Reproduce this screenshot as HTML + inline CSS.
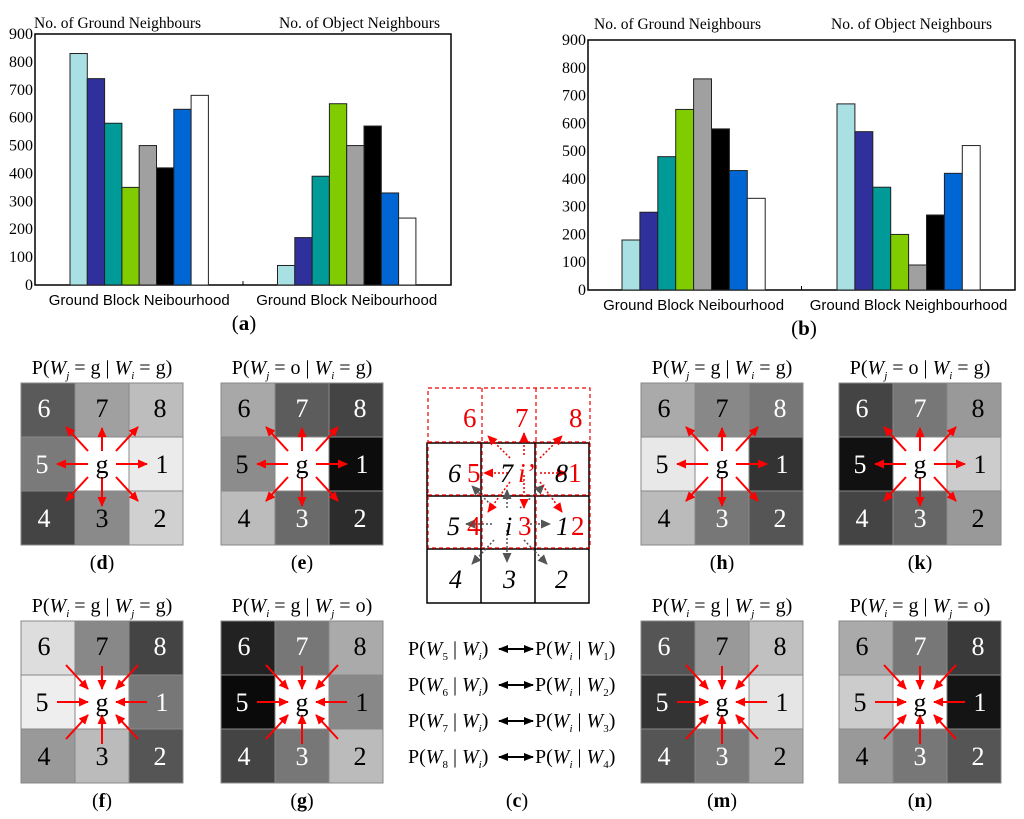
<!DOCTYPE html>
<html><head><meta charset="utf-8"><style>
body{margin:0;background:#fff;width:1024px;height:814px;overflow:hidden}
svg text{font-family:"Liberation Serif",serif}
</style></head><body>
<svg id="fig" width="1024" height="814" viewBox="0 0 1024 814" xmlns="http://www.w3.org/2000/svg">
<defs>
<marker id="ar" markerWidth="10" markerHeight="10" refX="9" refY="5" orient="auto" markerUnits="userSpaceOnUse"><path d="M0,0.5 L10,5 L0,9.5 z" fill="#f00"/></marker>
<marker id="ak" markerWidth="10" markerHeight="10" refX="9" refY="5" orient="auto" markerUnits="userSpaceOnUse"><path d="M0,0.5 L10,5 L0,9.5 z" fill="#555"/></marker>
<marker id="ab" markerWidth="10" markerHeight="8" refX="9" refY="4" orient="auto-start-reverse" markerUnits="userSpaceOnUse"><path d="M0,0 L10,4 L0,8 z" fill="#000"/></marker>
</defs>
<g id="c-diagram">
<rect x="427" y="443" width="162" height="160" fill="none" stroke="#000" stroke-width="1.5"/>
<line x1="481" y1="443" x2="481" y2="603" stroke="#000" stroke-width="1.5"/>
<line x1="535" y1="443" x2="535" y2="603" stroke="#000" stroke-width="1.5"/>
<line x1="427" y1="496" x2="589" y2="496" stroke="#000" stroke-width="1.5"/>
<line x1="427" y1="549" x2="589" y2="549" stroke="#000" stroke-width="1.5"/>
<g fill="none" stroke="#e00" stroke-width="1.2" stroke-dasharray="4,3">
<rect x="428" y="388" width="162" height="160"/>
<line x1="482" y1="388" x2="482" y2="548"/><line x1="536" y1="388" x2="536" y2="548"/>
<line x1="428" y1="442" x2="590" y2="442"/><line x1="428" y1="495" x2="590" y2="495"/>
</g>
<g stroke="#555" stroke-width="1.5" stroke-dasharray="2,2" marker-end="url(#ak)">
<line x1="507" y1="508" x2="507" y2="490"/><line x1="507" y1="530" x2="507" y2="562"/>
<line x1="492" y1="524" x2="466" y2="524"/><line x1="526" y1="524" x2="550" y2="524"/>
<line x1="494" y1="508" x2="472" y2="486"/><line x1="520" y1="508" x2="544" y2="485"/>
<line x1="494" y1="540" x2="472" y2="564"/><line x1="524" y1="540" x2="547" y2="564"/>
</g>
<g stroke="#e00" stroke-width="1.5" stroke-dasharray="2,2" marker-end="url(#ar)">
<line x1="524" y1="455" x2="524" y2="433"/><line x1="524" y1="475" x2="524" y2="508"/>
<line x1="508" y1="473" x2="484" y2="473"/><line x1="540" y1="473" x2="566" y2="473"/>
<line x1="510" y1="458" x2="488" y2="436"/><line x1="540" y1="458" x2="562" y2="436"/>
<line x1="510" y1="482" x2="488" y2="512"/><line x1="540" y1="482" x2="562" y2="512"/>
</g>
<g font-size="27" fill="#e00">
<text x="463" y="427">6</text><text x="515" y="427">7</text><text x="569" y="427">8</text>
<text x="467" y="482">5</text><text x="568" y="482">1</text>
<text x="467" y="535">4</text><text x="518" y="535">3</text><text x="571" y="535">2</text>
<text x="518" y="482" font-style="italic">i’</text>
</g>
<g font-size="26" font-style="italic" fill="#000">
<text x="448" y="482">6</text><text x="500" y="482">7</text><text x="555" y="482">8</text>
<text x="447" y="535">5</text><text x="556" y="535">1</text>
<text x="449" y="588">4</text><text x="503" y="588">3</text><text x="555" y="588">2</text>
<text x="505" y="535">i</text>
</g>
</g>
<g id="eqs" font-size="20"></g>
</svg>
<script>
// ---- chart data ----
const yTicks = [0,100,200,300,400,500,600,700,800,900];
const barColors = ["#a8e0e4","#30309c","#009a98","#80cc00","#a0a0a0","#000000","#0066d4","#ffffff"];
const aGround = [830,740,580,350,500,420,630,680];
const aObject = [70,170,390,650,500,570,330,240];
const bGround = [180,280,480,650,760,580,430,330];
const bObject = [670,570,370,200,90,270,420,520];
const aGroupLabels = ["Ground Block Neibourhood","Ground Block Neibourhood"];
const bGroupLabels = ["Ground Block Neibourhood","Ground Block Neighbourhood"];

const NS="http://www.w3.org/2000/svg";
const svg=document.getElementById('fig');
function mk(tag,attrs,parent){const e=document.createElementNS(NS,tag);for(const k in attrs)e.setAttribute(k,attrs[k]);(parent||svg).appendChild(e);return e;}

function chart(cfg){
  const g=mk('g',{});
  
  
  const y=v=>cfg.y0-(v/900)*(cfg.y0-cfg.y1);
  const fr=mk('rect',{x:cfg.x0,y:cfg.y1,width:cfg.x1-cfg.x0,height:cfg.y0-cfg.y1,fill:'none',stroke:'#000','stroke-width':1.5},g);
  
  
  yTicks.forEach(t=>{
    const tx=mk('text',{x:cfg.x0-2,y:y(t)+5,'text-anchor':'end','font-size':16},g);
    tx.textContent=t;
    
    
  });
  mk('line',{x1:(cfg.x0+cfg.x1)/2,y1:cfg.y0,x2:(cfg.x0+cfg.x1)/2,y2:cfg.y0-4,stroke:'#000'},g);
  [cfg.g1,cfg.g2].forEach((vals,gi)=>{
    const gx=gi?cfg.gx2:cfg.gx1, w=cfg.bw;
    vals.forEach((v,i)=>{
      const r=mk('rect',{x:gx+i*w,y:y(v),width:w,height:y(0)-y(v),fill:barColors[i],stroke:'#222','stroke-width':1},g);
      
      
    });
    const lb=mk('text',{x:gx+4*w,y:cfg.y0+20,'text-anchor':'middle','font-size':15,style:'font-family:"Liberation Sans",sans-serif'},g);
    lb.textContent=cfg.labels[gi];
    
    
  });
  const t1=mk('text',{x:cfg.t1x,y:cfg.ty,'font-size':15.5},g);t1.textContent="No. of Ground Neighbours";
  
  
  const t2=mk('text',{x:cfg.t2x,y:cfg.ty,'font-size':15.5},g);t2.textContent="No. of Object Neighbours";
  
  
  const cap=mk('text',{x:cfg.capx,y:cfg.y0+45,'text-anchor':'middle','font-size':21},g);
  cap.innerHTML='(<tspan font-weight="bold">'+cfg.cap+'</tspan>)';
  
  
}
chart({name:'chart-a',x0:35,x1:451,y0:285,y1:34,gx1:70,gx2:277.5,bw:17.3,g1:aGround,g2:aObject,labels:aGroupLabels,t1x:34,t2x:279,ty:28,capx:244,cap:'a'});
chart({name:'chart-b',x0:588,x1:1015,y0:290,y1:40,gx1:622,gx2:837,bw:17.9,g1:bGround,g2:bObject,labels:bGroupLabels,t1x:594,t2x:831,ty:29,capx:804,cap:'b'});

// ---- grid panels ----
const panels=[
 {id:'d',x:21,y:383,out:true,t:['j','g','i','g'],c:['#5a5a5a','#a0a0a0','#bdbdbd','#7a7a7a','#ffffff','#ebebeb','#444444','#8a8a8a','#d0d0d0']},
 {id:'e',x:221,y:383,out:true,t:['j','o','i','g'],c:['#a8a8a8','#5c5c5c','#444444','#8c8c8c','#ffffff','#0c0c0c','#bcbcbc','#6a6a6a','#2c2c2c']},
 {id:'h',x:641,y:383,out:true,t:['j','g','i','g'],c:['#aaaaaa','#888888','#777777','#e8e8e8','#ffffff','#333333','#bbbbbb','#777777','#555555']},
 {id:'k',x:839,y:383,out:true,t:['j','o','i','g'],c:['#444444','#777777','#999999','#111111','#ffffff','#cccccc','#444444','#666666','#999999']},
 {id:'f',x:21,y:621,out:false,t:['i','g','j','g'],c:['#dddddd','#888888','#444444','#eeeeee','#ffffff','#777777','#999999','#bbbbbb','#555555']},
 {id:'g',x:221,y:621,out:false,t:['i','g','j','o'],c:['#222222','#777777','#aaaaaa','#0a0a0a','#ffffff','#888888','#444444','#777777','#bbbbbb']},
 {id:'m',x:641,y:621,out:false,t:['i','g','j','g'],c:['#555555','#999999','#c0c0c0','#333333','#ffffff','#e5e5e5','#555555','#7a7a7a','#aaaaaa']},
 {id:'n',x:839,y:621,out:false,t:['i','g','j','o'],c:['#aaaaaa','#777777','#3a3a3a','#cccccc','#ffffff','#141414','#999999','#777777','#555555']}
];
const nums=['6','7','8','5','g','1','4','3','2'];
panels.forEach(p=>{
  const g=mk('g',{});
  
  
  const cw=54,ch=54;
  for(let i=0;i<9;i++){
    const cx=p.x+(i%3)*cw, cy=p.y+Math.floor(i/3)*ch;
    const r=mk('rect',{x:cx,y:cy,width:cw,height:ch,fill:p.c[i],stroke:'#888','stroke-width':1},g);
    
    
  }
  const cx=p.x+81, cy=p.y+81;
  const dirs=[[-1,-1],[0,-1],[1,-1],[-1,0],[1,0],[-1,1],[0,1],[1,1]];
  dirs.forEach(d=>{
    const diag=d[0]&&d[1];
    let x1,y1,x2,y2;
    if(diag){x1=cx+d[0]*14;y1=cy+d[1]*13;x2=cx+d[0]*36;y2=cy+d[1]*37;}
    else if(d[0]){x1=cx+d[0]*14;y1=cy;x2=cx+d[0]*45;y2=cy;}
    else {x1=cx;y1=cy+d[1]*13;x2=cx;y2=cy+d[1]*(d[1]<0?36:42);}
    if(!p.out){[x1,x2]=[x2,x1];[y1,y2]=[y2,y1];}
    mk('line',{x1,y1,x2,y2,stroke:'#f00','stroke-width':2,'marker-end':'url(#ar)'},g);
  });
  for(let i=0;i<9;i++){
    const cx0=p.x+(i%3)*cw, cy0=p.y+Math.floor(i/3)*ch;
    const lum=parseInt(p.c[i].slice(1,3),16);
    let tx=cx0+cw/2, ty=cy0+ch/2+9;
    if(i<3)ty-=2;
    if(i===3)tx-=6; if(i===5)tx+=6;
    if(i===0)tx-=4; if(i===2)tx+=4; if(i===6)tx-=4; if(i===8)tx+=4;
    const t=mk('text',{x:tx,y:ty,'text-anchor':'middle','font-size':26,fill:lum<0x80?'#fff':'#000'},g);
    t.textContent=nums[i];
    
    
  }
  const tt=mk('text',{x:p.x+81,y:p.y-9,'text-anchor':'middle','font-size':20},g);
  tt.innerHTML='P(<tspan font-style="italic">W</tspan><tspan font-size="11" font-style="italic" dy="5">'+p.t[0]+'</tspan><tspan dy="-5"> = '+p.t[1]+' | </tspan><tspan font-style="italic">W</tspan><tspan font-size="11" font-style="italic" dy="5">'+p.t[2]+'</tspan><tspan dy="-5"> = '+p.t[3]+')</tspan>';
  
  
  const cap=mk('text',{x:p.x+81,y:p.y+186,'text-anchor':'middle','font-size':20},g);
  cap.innerHTML='(<tspan font-weight="bold">'+p.id+'</tspan>)';
  
  
});

// ---- equations ----
const eq=document.getElementById('eqs');
[[5,1],[6,2],[7,3],[8,4]].forEach((pr,k)=>{
  const yy=655+k*36;
  const t1=mk('text',{x:408,y:yy},eq);
  t1.innerHTML='P(<tspan font-style="italic">W</tspan><tspan font-size="11" dy="5">'+pr[0]+'</tspan><tspan dy="-5"> | </tspan><tspan font-style="italic">W</tspan><tspan font-size="11" font-style="italic" dy="5">i</tspan><tspan dy="-5">)</tspan>';
  
  
  mk('line',{x1:499,y1:yy-6,x2:533,y2:yy-6,stroke:'#000','stroke-width':2,'marker-start':'url(#ab)','marker-end':'url(#ab)'},eq);
  const t2=mk('text',{x:535,y:yy},eq);
  t2.innerHTML='P(<tspan font-style="italic">W</tspan><tspan font-size="11" font-style="italic" dy="5">i</tspan><tspan dy="-5"> | </tspan><tspan font-style="italic">W</tspan><tspan font-size="11" dy="5">'+pr[1]+'</tspan><tspan dy="-5">)</tspan>';
  
  
});
const cc=mk('text',{x:517,y:807,'text-anchor':'middle','font-size':20},eq);
cc.innerHTML='(<tspan font-weight="bold">c</tspan>)';


</script>
</body></html>
